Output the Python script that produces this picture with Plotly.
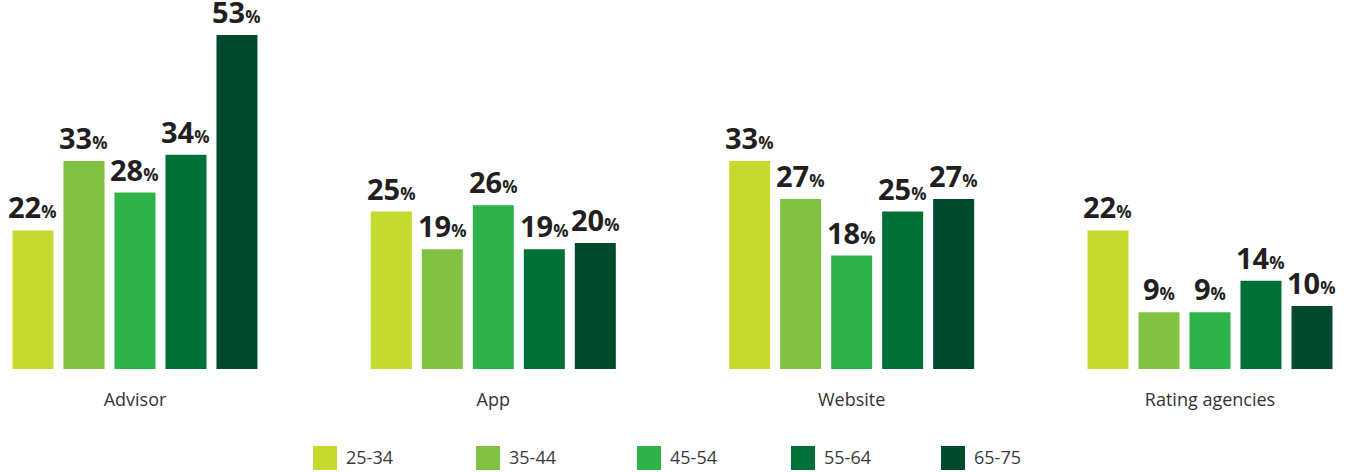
import plotly.graph_objects as go

# Survey data: share of respondents by age band
categories = ["Advisor", "App", "Website", "Rating agencies"]
age_groups = ["25-34", "35-44", "45-54", "55-64", "65-75"]
values = {
    "25-34": [22, 25, 33, 22],
    "35-44": [33, 19, 27, 9],
    "45-54": [28, 26, 18, 9],
    "55-64": [34, 19, 25, 14],
    "65-75": [53, 20, 27, 10],
}
colors = ["#C5D92F", "#82C242", "#2EB34B", "#006F38", "#004B2D"]

W, H = 1351, 472
PLOT_BOTTOM = 103
BAR_STEP = 51  # px between neighbouring bars in a group

fig = go.Figure()
for name, col in zip(age_groups, colors):
    fig.add_trace(go.Bar(
        x=categories, y=values[name], name=name,
        marker=dict(color=col, line=dict(width=0)),
        showlegend=False, hoverinfo="x+y+name",
    ))

# Value labels above bars: bold number with a smaller percent sign
annotations = []
for i, name in enumerate(age_groups):
    for cat, v in zip(categories, values[name]):
        annotations.append(dict(
            x=cat, y=v, xref="x", yref="y",
            xshift=(i - 2) * BAR_STEP, yshift=2,
            yanchor="bottom", xanchor="center", showarrow=False,
            text=f"<b>{v}</b><span style='font-size:17px'><b>%</b></span>",
            font=dict(family="Open Sans", size=29, color="#231F20"),
        ))

# Legend drawn as swatches with labels beneath the chart
legend_left = [313, 476, 637, 791, 941]
shapes = []
plot_h = H - PLOT_BOTTOM
def py(px):
    return (plot_h - px) / plot_h

for name, col, lx in zip(age_groups, colors, legend_left):
    shapes.append(dict(
        type="rect", xref="paper", yref="paper",
        x0=lx / W, x1=(lx + 24) / W, y0=py(470), y1=py(446),
        fillcolor=col, line=dict(width=0),
    ))
    annotations.append(dict(
        x=(lx + 31) / W, y=py(457.5), xref="paper", yref="paper",
        xanchor="left", yanchor="middle", showarrow=False,
        text=name, font=dict(family="Open Sans", size=18, color="#3A3A3A"),
    ))

fig.update_layout(
    width=W, height=H,
    margin=dict(l=0, r=0, t=0, b=PLOT_BOTTOM, pad=0),
    paper_bgcolor="white", plot_bgcolor="white",
    barmode="group", bargap=0.2884, bargroupgap=0.196,
    xaxis=dict(
        range=[-0.3767, 3.3935], showgrid=False, zeroline=False,
        showline=False, ticks="", ticklabelstandoff=18,
        tickfont=dict(family="Open Sans", size=18, color="#333333"),
    ),
    yaxis=dict(range=[0, 58.57], visible=False, showgrid=False, zeroline=False),
    annotations=annotations, shapes=shapes,
)

fig.write_html("out.html")
